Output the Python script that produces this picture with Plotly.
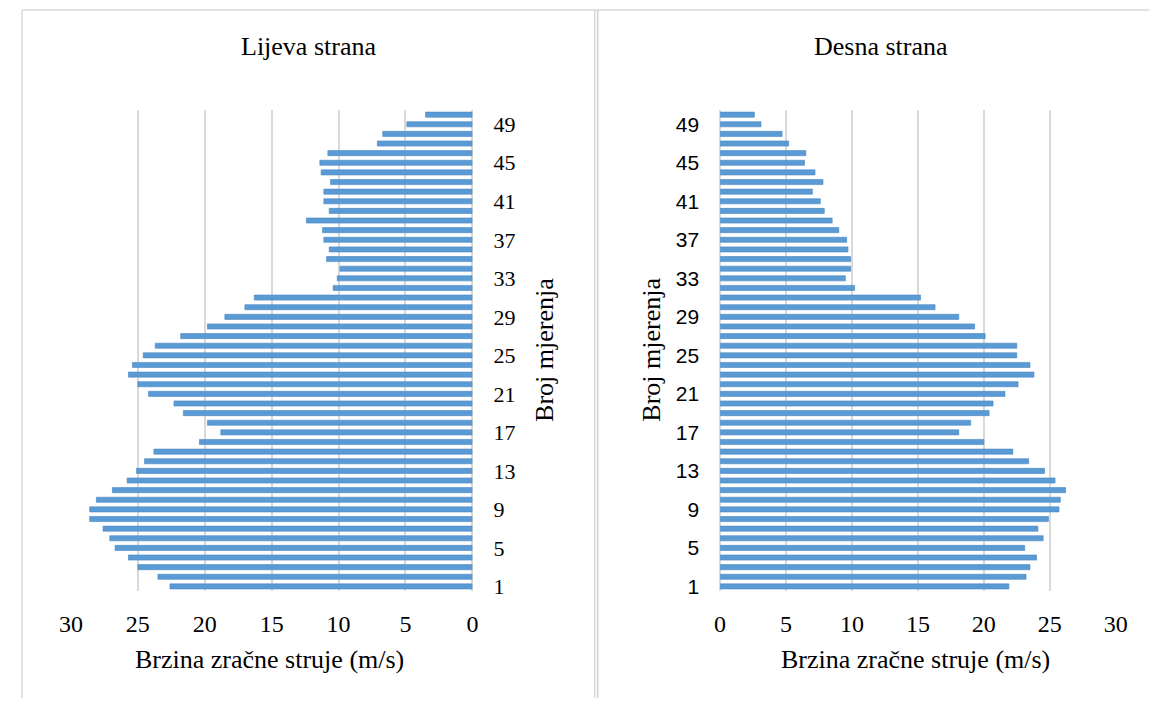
import plotly.graph_objects as go

measurements = list(range(1, 51))

left_speed = [22.6, 23.5, 25.0, 25.7, 26.7, 27.1, 27.6, 28.6, 28.6, 28.1,
              26.9, 25.8, 25.1, 24.5, 23.8, 20.4, 18.8, 19.8, 21.6, 22.3,
              24.2, 25.0, 25.7, 25.4, 24.6, 23.7, 21.8, 19.8, 18.5, 17.0,
              16.3, 10.4, 10.1, 9.9, 10.9, 10.7, 11.1, 11.2, 12.4, 10.7,
              11.1, 11.1, 10.6, 11.3, 11.4, 10.8, 7.1, 6.7, 4.9, 3.5]

right_speed = [21.9, 23.2, 23.5, 24.0, 23.1, 24.5, 24.1, 24.9, 25.7, 25.8,
               26.2, 25.4, 24.6, 23.4, 22.2, 20.0, 18.1, 19.0, 20.4, 20.7,
               21.6, 22.6, 23.8, 23.5, 22.5, 22.5, 20.1, 19.3, 18.1, 16.3,
               15.2, 10.2, 9.5, 9.9, 9.9, 9.7, 9.6, 9.0, 8.5, 7.9,
               7.6, 7.0, 7.8, 7.2, 6.4, 6.5, 5.2, 4.7, 3.1, 2.6]

title_left = "Lijeva strana"
title_right = "Desna strana"
x_title = "Brzina zračne struje (m/s)"
y_title = "Broj mjerenja"

# page has the browser's default 8px body margin; figure fills the rest exactly
OFF = 8
W, H = 1169 - 2 * OFF, 714 - 2 * OFF
BAR = "#5B9BD5"
GRID = "#D9D9D9"
SERIF = "Liberation Serif, Times New Roman, serif"
SANS = "Liberation Sans, Arial, sans-serif"

def px(x):
    return (x - OFF) / W

def py(y):
    return 1 - (y - OFF) / H

fig = go.Figure()
fig.add_trace(go.Bar(x=left_speed, y=measurements, orientation="h",
                     marker=dict(color=BAR, line=dict(color="#4A86BF", width=0.6)),
                     xaxis="x", yaxis="y", showlegend=False, hoverinfo="skip"))
fig.add_trace(go.Bar(x=right_speed, y=measurements, orientation="h",
                     marker=dict(color=BAR, line=dict(color="#4A86BF", width=0.6)),
                     xaxis="x2", yaxis="y2", showlegend=False, hoverinfo="skip"))

ydom = [py(598), py(111)]
common_x = dict(dtick=5, tick0=0, showgrid=True, gridcolor=GRID, gridwidth=2,
                zeroline=True, zerolinecolor=GRID, zerolinewidth=2,
                showline=False, ticks="", ticklabelstandoff=16,
                tickfont=dict(family=SERIF, size=24, color="#000000"))
common_y = dict(range=[0.5, 50.5], tick0=1, dtick=4, showgrid=False, zeroline=False,
                showline=False, ticks="", ticklabelstandoff=20)

fig.update_layout(
    width=W, height=H, autosize=False,
    margin=dict(l=0, r=0, t=0, b=0, pad=0),
    paper_bgcolor="white", plot_bgcolor="white",
    bargap=0.47,
    xaxis=dict(domain=[px(60), px(470)], range=[30, 0], anchor="y", **common_x),
    yaxis=dict(domain=ydom, anchor="x", side="right",
               tickfont=dict(family=SERIF, size=22, color="#000000"), **common_y),
    xaxis2=dict(domain=[px(723), px(1127)], range=[0, 30], anchor="y2", **common_x),
    yaxis2=dict(domain=ydom, anchor="x2", side="left",
                tickfont=dict(family=SANS, size=21, color="#000000"), **common_y),
)

ann_font = dict(family=SERIF, size=26, color="#000000")
annotations = [
    dict(text=title_left, x=px(303), y=py(47)),
    dict(text=title_right, x=px(887), y=py(47)),
    dict(text=x_title, x=px(263), y=py(667)),
    dict(text=x_title, x=px(923), y=py(667)),
    dict(text=y_title, x=px(543), y=py(354), textangle=-90),
    dict(text=y_title, x=px(652), y=py(354), textangle=-90),
]
for a in annotations:
    a.update(xref="paper", yref="paper", showarrow=False, font=ann_font,
             xanchor="center", yanchor="middle")
fig.update_layout(annotations=annotations)

border = dict(color="#D9D9D9", width=1.5)
shapes = [
    dict(type="line", x0=px(10), x1=px(10), y0=py(10), y1=0, line=border),
    dict(type="line", x0=px(10), x1=1, y0=py(10), y1=py(10), line=border),
    dict(type="line", x0=px(595), x1=px(595), y0=py(10), y1=0, line=border),
    dict(type="line", x0=px(598), x1=px(598), y0=py(10), y1=0,
         line=dict(color="#D0D0D0", width=1.5)),
]
for s in shapes:
    s.update(xref="paper", yref="paper", layer="below")
fig.update_layout(shapes=shapes)

fig.write_html("out.html", config={"displayModeBar": False, "staticPlot": True})
